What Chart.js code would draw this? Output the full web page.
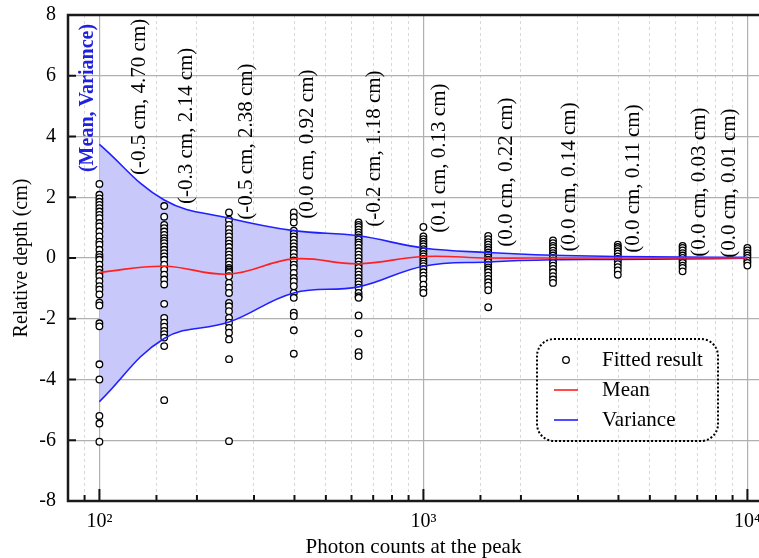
<!DOCTYPE html>
<html lang="en">
<head>
<meta charset="utf-8"/>
<title>Relative depth vs photon counts at the peak</title>
<script src="https://cdn.jsdelivr.net/npm/chart.js"></script>
<style>
  body { margin: 0; background: #fff; }
  canvas { display: block; }
</style>
</head>
<body>
<canvas id="chart" width="759" height="558"></canvas>
<script>
  // photon counts at the peak (one column of fits each)
  const photonCounts = [100, 158.5, 251.2, 398.1, 631.0, 1000, 1585, 2512, 3981, 6310, 10000];

  // curves
  const meanCurve  = [-0.47, -0.27, -0.53, -0.03, -0.19, 0.05, 0.0, 0.0, 0.0, 0.0, 0.0];
  const upperCurve = [3.74, 1.91, 1.31, 0.90, 0.73, 0.33, 0.18, 0.09, 0.05, 0.03, 0.02];
  const lowerCurve = [-4.73, -2.65, -2.11, -1.15, -0.95, -0.27, -0.13, -0.06, -0.05, -0.03, -0.01];

  // numbers written above each column
  const labelMean     = [-0.5, -0.3, -0.5, 0.0, -0.2, 0.1, 0.0, 0.0, 0.0, 0.0, 0.0];
  const labelVariance = [4.70, 2.14, 2.38, 0.92, 1.18, 0.13, 0.22, 0.14, 0.11, 0.03, 0.01];

  // fitted results per column
  const fit100   = [2.44, 2.08, 1.96, 1.85, 1.75, 1.64, 1.53, 1.42, 1.31, 1.15, 1.04, 0.87, 0.71, 0.54, 0.44, 0.27, 0.11, 0.03, -0.06, -0.22, -0.38, -0.49, -0.60, -0.76, -0.93, -1.04, -1.20, -1.47, -1.56, -2.15, -2.25, -3.5, -4.0, -5.2, -5.45, -6.05];
  const fit158   = [1.71, 1.36, 1.09, 0.98, 0.87, 0.76, 0.65, 0.57, 0.49, 0.38, 0.27, 0.16, 0.05, -0.06, -0.22, -0.38, -0.55, -0.71, -0.87, -1.51, -1.97, -2.13, -2.26, -2.40, -2.51, -2.62, -2.90, -4.68];
  const fit251   = [1.50, 1.26, 1.09, 0.95, 0.82, 0.71, 0.58, 0.47, 0.36, 0.22, 0.11, 0.0, -0.11, -0.22, -0.33, -0.38, -0.44, -0.49, -0.60, -0.82, -0.98, -1.15, -1.48, -1.59, -1.75, -1.97, -2.13, -2.30, -2.46, -2.68, -3.33, -6.03];
  const fit398   = [1.50, 1.34, 1.17, 0.90, 0.80, 0.71, 0.60, 0.49, 0.38, 0.27, 0.16, 0.03, -0.08, -0.22, -0.33, -0.49, -0.66, -0.77, -0.93, -1.15, -1.31, -1.80, -1.91, -2.38, -3.15];
  const fit631   = [1.17, 1.09, 1.02, 0.93, 0.84, 0.76, 0.68, 0.60, 0.51, 0.44, 0.33, 0.22, 0.11, 0.0, -0.11, -0.22, -0.33, -0.44, -0.55, -0.66, -0.77, -0.87, -0.98, -1.15, -1.26, -1.31, -1.89, -2.48, -3.10, -3.23];
  const fit1000  = [1.02, 0.71, 0.62, 0.54, 0.46, 0.38, 0.29, 0.22, 0.13, 0.05, -0.03, -0.11, -0.19, -0.27, -0.36, -0.47, -0.58, -0.69, -0.88, -1.04, -1.15];
  const fit1585  = [0.73, 0.62, 0.52, 0.44, 0.35, 0.27, 0.18, 0.11, 0.02, -0.06, -0.14, -0.22, -0.31, -0.38, -0.47, -0.58, -0.69, -0.80, -0.91, -1.06, -1.62];
  const fit2512  = [0.58, 0.49, 0.40, 0.33, 0.24, 0.16, 0.08, 0.0, -0.08, -0.16, -0.25, -0.36, -0.47, -0.60, -0.71, -0.82];
  const fit3981  = [0.44, 0.36, 0.30, 0.22, 0.14, 0.05, -0.03, -0.11, -0.20, -0.30, -0.41, -0.55];
  const fit6310  = [0.40, 0.33, 0.25, 0.16, 0.08, 0.0, -0.09, -0.16, -0.25, -0.33, -0.44];
  const fit10000 = [0.33, 0.25, 0.16, 0.08, 0.0, -0.09, -0.16, -0.25];
  const fittedColumns = [fit100, fit158, fit251, fit398, fit631, fit1000, fit1585, fit2512, fit3981, fit6310, fit10000];

  // where the rotated labels sit: pixel shift from the column, depth where the text starts
  const labelDx   = [40, 22, 17, 14, 16, 16, 18, 16, 16, 17, -18];
  const labelBase = [2.73, 1.78, 1.26, 1.29, 1.03, 0.83, 0.37, 0.21, 0.17, 0.04, 0.01];

  const serif = '"Liberation Serif", "Times New Roman", serif';
  Chart.defaults.font.family = serif;
  Chart.defaults.color = '#000';

  const sup = { 2: '\u00b2', 3: '\u00b3', 4: '\u2074' };
  function isDecade(v) {
    const e = Math.round(Math.log10(v));
    return Math.abs(v - Math.pow(10, e)) < 1e-6 * v;
  }

  const scatterPts = [];
  fittedColumns.forEach((col, i) => col.forEach(y => scatterPts.push({ x: photonCounts[i], y: y })));
  const toXY = arr => arr.map((y, i) => ({ x: photonCounts[i], y: y }));

  const fmtMean = v => (v === 0 ? 0 : v).toFixed(1);

  const labelsPlugin = {
    id: 'columnLabels',
    afterDatasetsDraw(chart) {
      const ctx = chart.ctx, xs = chart.scales.x, ys = chart.scales.y;
      ctx.save();
      ctx.textAlign = 'left';
      ctx.textBaseline = 'middle';
      ctx.fillStyle = '#000';
      ctx.font = '21px ' + serif;
      photonCounts.forEach((p, i) => {
        const px = xs.getPixelForValue(p) + labelDx[i];
        const py = ys.getPixelForValue(labelBase[i]);
        ctx.save();
        ctx.translate(px, py);
        ctx.rotate(-Math.PI / 2);
        ctx.fillText('(' + fmtMean(labelMean[i]) + ' cm, ' + labelVariance[i].toFixed(2) + ' cm)', 0, 0);
        ctx.restore();
      });
      // heading for the labels
      ctx.save();
      ctx.translate(xs.getPixelForValue(photonCounts[0]) - 12, ys.getPixelForValue(2.83));
      ctx.rotate(-Math.PI / 2);
      ctx.fillStyle = '#2020e0';
      ctx.font = 'bold 20px ' + serif;
      ctx.fillText('(Mean, Variance)', 0, 0);
      ctx.restore();
      ctx.restore();
    }
  };

  const framePlugin = {
    id: 'frame',
    afterDraw(chart) {
      const ctx = chart.ctx, a = chart.chartArea, xs = chart.scales.x, ys = chart.scales.y;
      ctx.save();
      // inward ticks
      ctx.strokeStyle = '#111';
      ctx.lineWidth = 2;
      xs.ticks.forEach(t => {
        const px = xs.getPixelForValue(t.value);
        if (px <= a.left + 2 || px >= a.right - 2) return;
        const len = isDecade(t.value) ? 12 : 6;
        ctx.beginPath();
        ctx.moveTo(px, a.bottom);
        ctx.lineTo(px, a.bottom - len);
        ctx.stroke();
      });
      ys.ticks.forEach(t => {
        const py = ys.getPixelForValue(t.value);
        ctx.beginPath();
        ctx.moveTo(a.left, py);
        ctx.lineTo(a.left + 8, py);
        ctx.stroke();
      });
      // frame: left, top, bottom
      ctx.strokeStyle = '#1a1a1a';
      ctx.lineWidth = 2.5;
      ctx.beginPath();
      ctx.moveTo(a.right, a.top);
      ctx.lineTo(a.left, a.top);
      ctx.lineTo(a.left, a.bottom);
      ctx.lineTo(a.right, a.bottom);
      ctx.stroke();

      // legend
      const ds = chart.data.datasets;
      const bx = 537, by = 339, bw = 181, bh = 102;
      ctx.lineWidth = 2;
      ctx.setLineDash([2, 2]);
      ctx.strokeStyle = '#000';
      ctx.beginPath();
      ctx.roundRect(bx, by, bw, bh, 17);
      ctx.stroke();
      ctx.setLineDash([]);
      ctx.font = '21px ' + serif;
      ctx.textBaseline = 'middle';
      ctx.textAlign = 'left';
      ctx.fillStyle = '#000';
      // fitted result
      ctx.lineWidth = 1.3;
      ctx.beginPath();
      ctx.arc(566, 360, 3.3, 0, Math.PI * 2);
      ctx.fillStyle = '#fff';
      ctx.fill();
      ctx.strokeStyle = '#000';
      ctx.stroke();
      ctx.fillStyle = '#000';
      ctx.fillText(ds[0].label, 602, 360);
      // mean
      ctx.lineWidth = 1.6;
      ctx.strokeStyle = ds[3].borderColor;
      ctx.beginPath(); ctx.moveTo(554, 390); ctx.lineTo(578, 390); ctx.stroke();
      ctx.fillText(ds[3].label, 602, 390);
      // variance
      ctx.strokeStyle = ds[1].borderColor;
      ctx.beginPath(); ctx.moveTo(554, 420); ctx.lineTo(578, 420); ctx.stroke();
      ctx.fillText(ds[1].label, 602, 420);
      ctx.restore();
    }
  };

  const chart = new Chart(document.getElementById('chart').getContext('2d'), {
    type: 'line',
    data: {
      datasets: [
        {
          type: 'scatter',
          label: 'Fitted result',
          data: scatterPts,
          pointRadius: 3.3,
          pointBorderWidth: 1.3,
          pointBorderColor: '#000',
          pointBackgroundColor: '#fff',
          showLine: false,
          order: 4
        },
        {
          label: 'Variance',
          data: toXY(upperCurve),
          borderColor: '#2020ff',
          borderWidth: 1.6,
          backgroundColor: 'rgba(200, 200, 250, 1)',
          fill: '+1',
          pointRadius: 0,
          tension: 0.4,
          order: 2
        },
        {
          label: 'Variance (lower)',
          data: toXY(lowerCurve),
          borderColor: '#2020ff',
          borderWidth: 1.6,
          fill: false,
          pointRadius: 0,
          tension: 0.4,
          order: 2
        },
        {
          label: 'Mean',
          data: toXY(meanCurve),
          borderColor: '#ff2020',
          borderWidth: 1.6,
          fill: false,
          pointRadius: 0,
          tension: 0.4,
          order: 1
        }
      ]
    },
    options: {
      responsive: false,
      animation: false,
      layout: { autoPadding: false, padding: { top: 15, right: 0, left: 0, bottom: 0 } },
      plugins: {
        legend: { display: false },
        tooltip: { enabled: false },
        filler: { drawTime: 'beforeDatasetsDraw' }
      },
      scales: {
        x: {
          type: 'logarithmic',
          min: 80,
          max: 10860,
          position: 'bottom',
          afterFit: s => { s.height = 57; s.paddingLeft = 0; s.paddingRight = 0; },
          grid: {
            color: c => (c.tick && isDecade(c.tick.value)) ? '#b0b0b0' : 'rgba(0,0,0,0)',
            lineWidth: 1.2,
            drawTicks: false
          },
          border: { display: false },
          ticks: {
            autoSkip: false,
            maxRotation: 0,
            padding: 9,
            color: '#000',
            font: { size: 20 },
            callback: v => isDecade(v) ? '10' + sup[Math.round(Math.log10(v))] : ''
          },
          title: { display: true, text: 'Photon counts at the peak', color: '#000', font: { size: 21, lineHeight: 1.0 }, padding: { top: 0, bottom: 0 } }
        },
        xMinor: {
          type: 'logarithmic',
          min: 80,
          max: 10860,
          position: 'bottom',
          afterFit: s => { s.height = 0; s.paddingLeft = 0; s.paddingRight = 0; },
          grid: {
            color: c => (c.tick && !isDecade(c.tick.value)) ? '#d8d8d8' : 'rgba(0,0,0,0)',
            lineWidth: 1,
            drawTicks: false
          },
          border: { display: false, dash: [3, 3] },
          ticks: { display: false }
        },
        y: {
          min: -8,
          max: 8,
          afterFit: s => { s.width = 68; s.paddingTop = 0; s.paddingBottom = 0; },
          grid: { color: '#b0b0b0', lineWidth: 1.2, drawTicks: false },
          border: { display: false },
          ticks: { stepSize: 2, color: '#000', font: { size: 20 }, padding: 12 },
          title: { display: true, text: 'Relative depth (cm)', color: '#000', font: { size: 20 }, padding: { top: 10, bottom: 0 } }
        }
      }
    },
    plugins: [labelsPlugin, framePlugin]
  });
</script>
</body>
</html>
